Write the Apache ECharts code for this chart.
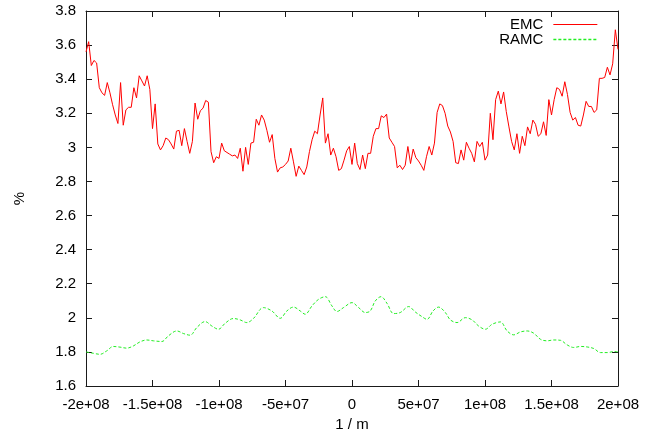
<!DOCTYPE html>
<html><head><meta charset="utf-8">
<script src="https://cdn.jsdelivr.net/npm/echarts@6/dist/echarts.min.js"></script>
<style>html,body{margin:0;padding:0;background:#fff}#c{width:655px;height:437px}</style>
</head><body><div id="c"></div>
<script>
// x values are in units of 1e6 (1/m)
const emcX = [-200,-198,-196,-194,-192,-190,-188,-186,-184,-182,-180,-178,-176,-174,-172,-170,-168,-166,-164,-162,
-160,-158,-156,-154,-152,-150,-148,-146,-144,-142,-140,-138,-136,-134,-132,-130,-128,-126,-124,-122,
-120,-118,-116,-114,-112,-110,-108,-106,-104,-102,-100,-98,-96,-94,-92,-90,-88,-86,-84,-82,
-80,-78,-76,-74,-72,-70,-68,-66,-64,-62,-60,-58,-56,-54,-52,-50,-48,-46,-44,-42,
-40,-38,-36,-34,-32,-30,-28,-26,-24,-22,-20,-18,-16,-14,-12,-10,-8,-6,-4,-2,
0,2,4,6,8,10,12,14,16,18,20,22,24,26,28,30,32,34,36,38,
40,42,44,46,48,50,52,54,56,58,60,62,64,66,68,70,72,74,76,78,
80,82,84,86,88,90,92,94,96,98,100,102,104,106,108,110,112,114,116,118,
120,122,124,126,128,130,132,134,136,138,140,142,144,146,148,150,152,154,156,158,
160,162,164,166,168,170,172,174,176,178,180,182,184,186,188,190,192,194,196,198,200];
const emcY = [3.56,3.62,3.48,3.51,3.495,3.35,3.32,3.305,3.38,3.32,3.25,3.19,3.14,3.38,3.13,3.22,3.235,3.235,3.35,3.29,
3.42,3.39,3.36,3.42,3.34,3.11,3.255,3.02,2.985,3.01,3.055,3.045,3.02,2.99,3.095,3.10,3.01,3.11,3.035,2.965,
3.035,3.26,3.165,3.215,3.23,3.275,3.265,2.975,2.91,2.945,2.935,3.025,
2.98,2.97,2.96,2.95,2.955,2.935,2.995,2.86,3.00,2.90,3.025,3.03,3.165,3.13,3.19,3.16,3.10,3.03,3.075,2.935,
2.855,2.88,2.885,2.90,2.92,2.995,2.915,2.83,2.89,2.865,2.84,2.885,2.975,3.045,3.095,3.08,3.19,3.29,3.025,3.08,
2.955,2.995,2.945,2.865,2.875,2.925,2.98,3.005,2.90,3.025,
2.905,2.87,2.955,2.875,2.965,2.965,3.065,3.11,3.11,3.185,3.175,3.195,3.055,3.03,3.005,2.88,2.895,2.87,2.895,3.005,
2.905,2.99,2.94,2.92,2.895,2.865,2.945,3.005,2.955,3.025,3.205,3.255,3.245,3.20,3.125,3.09,3.035,2.91,2.905,2.985,
2.925,3.03,2.995,2.965,2.915,3.035,3.005,3.03,2.925,2.955,3.20,
3.045,3.28,3.33,3.255,3.325,3.21,3.12,3.035,2.985,3.08,2.965,3.065,3.01,3.12,3.08,3.16,3.135,3.065,3.08,3.15,
3.07,3.28,3.19,3.28,3.35,3.34,3.30,3.385,3.31,3.205,3.16,3.175,3.13,3.125,3.19,3.27,3.24,3.24,3.205,3.22,
3.405,3.405,3.41,3.47,3.425,3.49,3.69,3.575];
const ramcX = [-200,-194.5,-189.5,-184.4,-179.5,-174.4,-169.4,-164.4,-159.4,-154.3,-149.3,-143,-138.1,-131.7,-126.8,-121.7,-116.7,-110.4,-105.4,-100.4,
-95.4,-89.1,-84.1,-79.1,-74.1,-66.6,-60.2,-54,-49,-44,-38.9,-35.2,-30.1,-25.2,-20.1,-15.1,-11.3,-6.4,0,5,
10,13.7,17.5,21.8,26.3,31.3,36.3,42.6,47.6,52.6,56.4,60.9,65.1,70.2,73.9,79,85.2,90.3,95.2,100.3,
105.3,111.6,116.6,121.6,126.6,131.7,136.6,141.7,146.7,151.7,156.7,161.8,166.7,171.8,176.8,181.8,186.8,191.9,196.9,200];
const ramcY = [1.80,1.792,1.786,1.806,1.832,1.828,1.822,1.835,1.859,1.870,1.865,1.861,1.894,1.923,1.908,1.898,1.943,1.978,1.952,1.933,
1.968,1.996,1.988,1.972,1.996,2.060,2.040,1.997,2.040,2.063,2.040,2.021,2.070,2.108,2.124,2.070,2.037,2.060,2.089,2.060,
2.031,2.040,2.099,2.124,2.085,2.025,2.031,2.066,2.034,2.007,1.991,2.040,2.063,2.031,1.988,1.972,2.001,1.988,1.952,1.933,
1.962,1.976,1.923,1.900,1.917,1.923,1.910,1.874,1.865,1.870,1.868,1.841,1.826,1.832,1.829,1.820,1.796,1.796,1.802,1.80];
const xTickValues = [-200,-150,-100,-50,0,50,100,150,200];
const xTickLabels = ['-2e+08','-1.5e+08','-1e+08','-5e+07','0','5e+07','1e+08','1.5e+08','2e+08'];
const yTickValues = [1.6,1.8,2.0,2.2,2.4,2.6,2.8,3.0,3.2,3.4,3.6,3.8];
const yTickLabels = ['1.6','1.8','2','2.2','2.4','2.6','2.8','3','3.2','3.4','3.6','3.8'];

const FONT = 'Liberation Sans';
const FS = 15;
const RED = '#ff0000';
const GREEN = '#22ee22';
const fmtX = v => { const i = xTickValues.findIndex(t => Math.abs(t - v) < 1e-6); return i >= 0 ? xTickLabels[i] : ''; };
const fmtY = v => { const i = yTickValues.findIndex(t => Math.abs(t - v) < 1e-6); return i >= 0 ? yTickLabels[i] : ''; };

const lineC = '#1a1a1a';
const baseAxis = {
  axisLine: {show: true, onZero: false, lineStyle: {color: lineC, width: 1}},
  axisTick: {show: true, inside: true, length: 6, lineStyle: {color: lineC, width: 1}},
  splitLine: {show: false}
};
const chart = echarts.init(document.getElementById('c'), null, {renderer: 'canvas'});
chart.setOption({
  animation: false,
  backgroundColor: '#fff',
  grid: {left: 86, right: 37, top: 11, bottom: 50, containLabel: false},
  legend: {
    orient: 'vertical', right: 57, top: 17, align: 'right', padding: 0,
    itemWidth: 44, itemHeight: 16, itemGap: 0,
    itemStyle: {opacity: 0},
    textStyle: {fontSize: FS, fontFamily: FONT, color: '#000', padding: [0, 5, 0, 0]},
    data: [
      {name: 'EMC', lineStyle: {color: RED, width: 1, type: 'solid', opacity: 1}},
      {name: 'RAMC', lineStyle: {color: GREEN, width: 1.3, type: [3, 2], opacity: 1}}
    ]
  },
  xAxis: [
    Object.assign({}, baseAxis, {
      type: 'value', position: 'bottom', min: -200, max: 200, interval: 50,
      axisLabel: {formatter: fmtX, color: '#000', fontSize: FS, fontFamily: FONT, margin: 11},
      name: '1 / m', nameLocation: 'middle', nameGap: 31,
      nameTextStyle: {color: '#000', fontSize: FS, fontFamily: FONT}
    }),
    Object.assign({}, baseAxis, {
      type: 'value', position: 'top', min: -200, max: 200, interval: 50,
      axisLabel: {show: false}
    })
  ],
  yAxis: [
    Object.assign({}, baseAxis, {
      type: 'value', position: 'left', min: 1.6, max: 3.8, interval: 0.2,
      axisLabel: {formatter: fmtY, color: '#000', fontSize: FS, fontFamily: FONT, margin: 10},
      name: '%', nameLocation: 'middle', nameGap: 59, nameRotate: 90,
      nameTextStyle: {color: '#000', fontSize: FS, fontFamily: FONT}
    }),
    Object.assign({}, baseAxis, {
      type: 'value', position: 'right', min: 1.6, max: 3.8, interval: 0.2,
      axisLabel: {show: false}
    })
  ],
  series: [
    {
      name: 'EMC', type: 'line', xAxisIndex: 0, yAxisIndex: 0,
      data: emcX.map((x, i) => [x, emcY[i]]),
      symbol: 'none', lineStyle: {color: RED, width: 1}, itemStyle: {color: RED}
    },
    {
      name: 'RAMC', type: 'line', xAxisIndex: 0, yAxisIndex: 0,
      data: ramcX.map((x, i) => [x, ramcY[i]]),
      symbol: 'none', smooth: 0.35,
      lineStyle: {color: GREEN, width: 1, type: [3, 2]}, itemStyle: {color: GREEN}
    }
  ]
});
</script></body></html>
